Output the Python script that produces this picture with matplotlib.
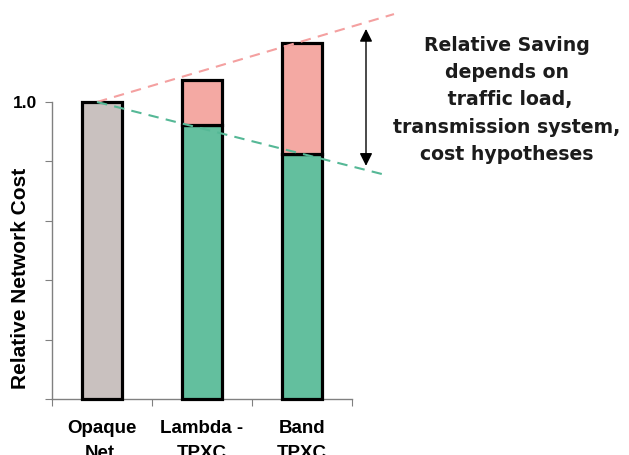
import matplotlib
matplotlib.use("Agg")
import matplotlib.pyplot as plt

# Bar data: relative network cost per architecture
categories = ["Opaque\nNet.", "Lambda -\nTPXC", "Band\nTPXC"]
base_cost = [1.0, 0.923, 0.825]        # lower (grey / green) segment
saving_part = [0.0, 0.151, 0.374]      # upper (pink) segment
y_ticks = [0.0, 0.2, 0.4, 0.6, 0.8, 1.0]
y_tick_labels = ["", "", "", "", "", "1.0"]

# Trend lines drawn from the opaque reference bar
upper_trend_x = [-0.05, 2.92]
upper_trend_y = [1.0, 1.296]
lower_trend_x = [-0.05, 2.84]
lower_trend_y = [1.0, 0.754]

# Double arrow marking the saving span
arrow_x = 2.64
arrow_y = [1.246, 0.785]

note_lines = ["Relative Saving", "depends on", " traffic load,",
              "transmission system,", "cost hypotheses"]

GREY = "#C9C1BF"
GREEN = "#63BF9E"
PINK = "#F4A9A3"
AXIS_GREY = "#808080"

W, H = 629, 455
fig = plt.figure(figsize=(W / 100, H / 100), dpi=100)
ax = fig.add_axes([52 / W, 1 - 399 / H, (W - 52) / W, 399 / H])
ax.set_xlim(-0.5, -0.5 + (W - 52) / 100)
ax.set_ylim(0, 399 / 297)

xs = list(range(len(categories)))
base_colors = [GREY, GREEN, GREEN]
ax.bar(xs, base_cost, width=0.40, color=base_colors, edgecolor="black",
       linewidth=2.3, zorder=3, clip_on=False)
ax.bar(xs[1:], saving_part[1:], bottom=base_cost[1:], width=0.40, color=PINK,
       edgecolor="black", linewidth=2.3, zorder=3, clip_on=False)

ax.plot(upper_trend_x, upper_trend_y, color="#F4A0A0", lw=1.5,
        dashes=(5, 3.5), zorder=4, clip_on=False)
ax.plot(lower_trend_x, lower_trend_y, color="#55B896", lw=1.5,
        dashes=(5, 3.5), zorder=4, clip_on=False)

ax.annotate("", xy=(arrow_x, arrow_y[0]), xytext=(arrow_x, arrow_y[1]),
            arrowprops=dict(arrowstyle="<|-|>", color="black", lw=1.0,
                            mutation_scale=19, shrinkA=0, shrinkB=0))

# Explanatory note on the right
note_x = 4.05
note_top = (399 - 45) / 297
note_step = 27.5 / 297
for i, line in enumerate(note_lines):
    ax.text(note_x, note_top - i * note_step, line, ha="center", va="center",
            fontsize=13.6, fontweight="bold", family="DejaVu Sans",
            color="#1c1c1c")

# Axes styling
for side in ("top", "right"):
    ax.spines[side].set_visible(False)
ax.spines["left"].set_bounds(0, 1.0)
ax.spines["bottom"].set_bounds(-0.5, 2.5)
for side in ("left", "bottom"):
    ax.spines[side].set_color(AXIS_GREY)
    ax.spines[side].set_linewidth(1.0)

ax.set_yticks(y_ticks)
ax.set_yticklabels(y_tick_labels, fontsize=12.5, fontweight="bold",
                   family="Liberation Sans")
ax.tick_params(axis="y", length=5, color=AXIS_GREY, pad=5.5)

ax.set_xticks([-0.5, 0.5, 1.5, 2.5])
ax.set_xticklabels([])
ax.set_xticks(xs, minor=True)
ax.set_xticklabels(categories, minor=True, fontsize=13.5, fontweight="bold",
                   family="Liberation Sans", linespacing=1.6)
ax.tick_params(axis="x", which="major", length=5, color=AXIS_GREY)
ax.tick_params(axis="x", which="minor", length=0, pad=15)

ax.set_ylabel("Relative Network Cost", fontsize=15, fontweight="bold",
              family="Liberation Sans", va="center")
ax.yaxis.set_label_coords(-31 / 577, (399 - 278) / 399)

fig.savefig("out.png", dpi=100)
